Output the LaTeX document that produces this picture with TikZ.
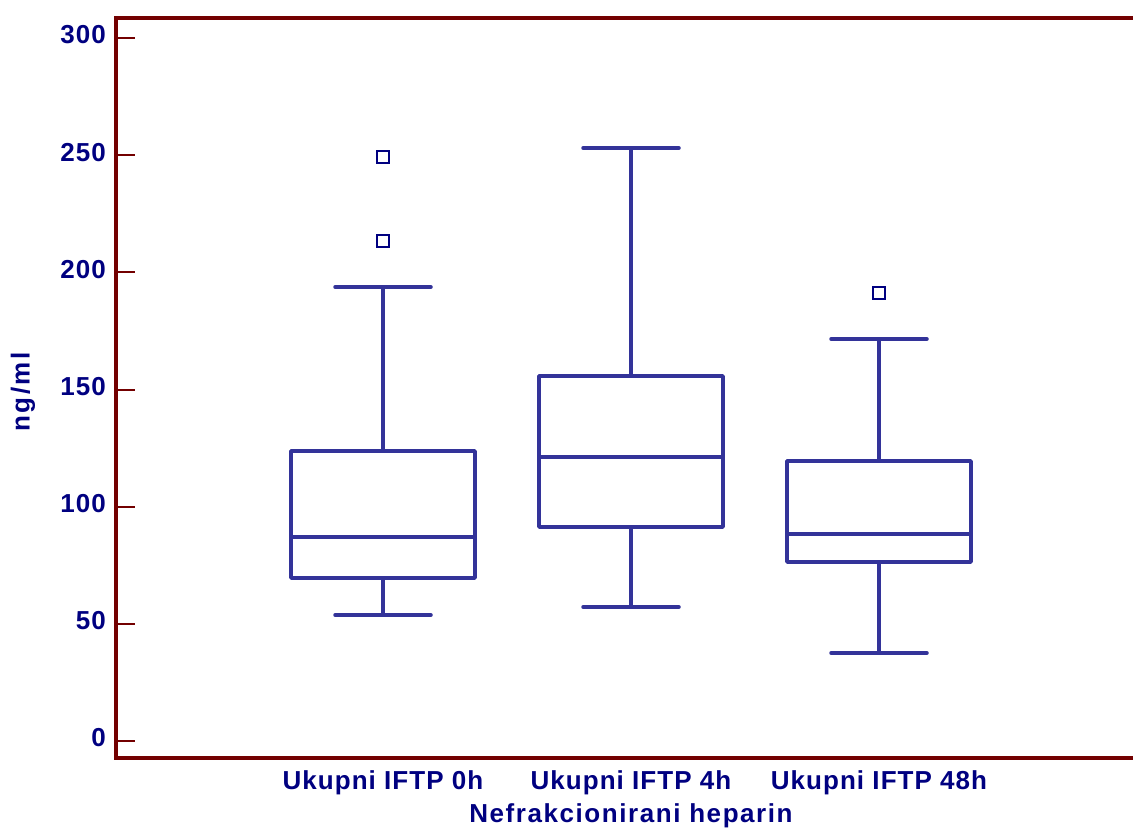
\documentclass[tikz,border=0pt]{standalone}
\usepackage{fontspec}
\setmainfont{Liberation Sans}[LetterSpace=4]
\definecolor{framec}{RGB}{115,0,0}
\definecolor{boxc}{RGB}{51,51,153}
\definecolor{txtc}{RGB}{0,0,128}
\tikzset{
  axisline/.style={draw=framec,line width=4pt},
  tickline/.style={draw=framec,line width=2pt},
  bx/.style={draw=boxc,line width=3.5pt,line cap=round,line join=round},
  outl/.style={draw=txtc,line width=2pt},
  lbl/.style={text=txtc,font=\fontsize{26}{30}\selectfont\bfseries,inner sep=0pt}
}
\newcommand{\mybox}[8]{% cx, q3, med, q1, top, bot
  \draw[bx] (#1-92,#2) rectangle (#1+92,#4);
  \draw[bx] (#1-92,#3) -- (#1+92,#3);
  \draw[bx] (#1,#2) -- (#1,#5);
  \draw[bx] (#1-48,#5) -- (#1+48,#5);
  \draw[bx] (#1,#4) -- (#1,#6);
  \draw[bx] (#1-48,#6) -- (#1+48,#6);
}
\begin{document}
\begin{tikzpicture}[x=1pt,y=-1pt]
\useasboundingbox (0,0) rectangle (1133,835);
% frame
\draw[axisline] (1133,18) -- (116,18) -- (116,758) -- (1133,758);
% ticks and labels
\foreach \v/\yy in {0/741,50/623.8,100/506.7,150/389.5,200/272.3,250/155.2,300/38}{
  \draw[tickline] (116,\yy) -- (135,\yy);
  \node[lbl,anchor=east] (tick\v) at (106,\yy-3) {\v};
}
% y label
\node[lbl,rotate=90] (ylab) at (23,392) {\addfontfeature{LetterSpace=10}ng/ml};
% boxes
\mybox{383}{451}{537}{578}{287}{615}{}{}
\mybox{631}{376}{457}{527}{148}{607}{}{}
\mybox{879}{461}{534}{562}{339}{653}{}{}
% outliers
\draw[outl] (377,151) rectangle (389,163);
\draw[outl] (377,235) rectangle (389,247);
\draw[outl] (873,287) rectangle (885,299);
% x labels
\node[lbl,anchor=base] (g1) at (383,789) {Ukupni IFTP 0h};
\node[lbl,anchor=base] (g2) at (631,789) {Ukupni IFTP 4h};
\node[lbl,anchor=base] (g3) at (879,789) {Ukupni IFTP 48h};
\node[lbl,anchor=base] (xlab) at (631,822) {\addfontfeature{LetterSpace=6}Nefrakcionirani heparin};
\end{tikzpicture}
\end{document}
